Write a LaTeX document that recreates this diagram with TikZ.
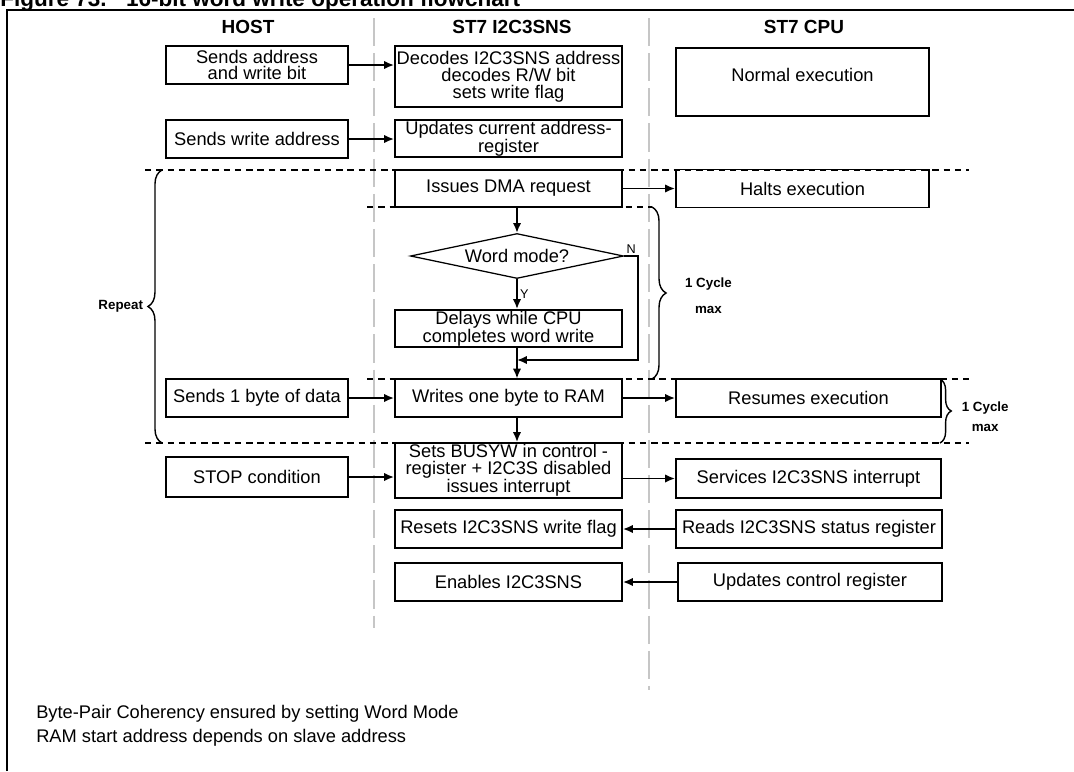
\documentclass[tikz,border=0pt]{standalone}
\usepackage{fontspec}
\setmainfont{Liberation Sans}
\usetikzlibrary{arrows.meta,shapes.geometric,decorations.pathreplacing}

\begin{document}
\begin{tikzpicture}[x=0.025cm, y=-0.025cm,
    font=\fontsize{13}{12}\selectfont,
    box/.style = {draw, line width=1.3pt, inner sep=0pt, align=center},
    hostbox/.style = {box, minimum width=4.55cm, minimum height=0.95cm},
    midbox/.style = {box, minimum width=5.675cm, minimum height=0.93cm},
    cpubox/.style = {box, minimum height=0.95cm},
    head/.style = {font=\fontsize{13.5}{14}\selectfont\bfseries},
    cyc/.style = {font=\fontsize{9.5}{11}\selectfont\bfseries, align=center, inner sep=0pt},
    yn/.style = {font=\fontsize{9}{10}\selectfont, inner sep=1.5pt},
    lane/.style = {gray!45, line width=1.4pt, dash pattern=on 20pt off 5pt},
    zone/.style = {line width=1.1pt, dash pattern=on 4.5pt off 3.5pt},
    flow/.style = {line width=1.3pt, -{Latex[length=7pt,width=6pt]}},
    curly/.style = {line width=1pt, decorate, decoration={brace, amplitude=10pt}}]

\useasboundingbox (0,0) rectangle (1074,771);

% frame and title
\node[anchor=base west, inner sep=0pt, font=\fontsize{16}{16}\selectfont\bfseries] (title) at (0,6) {Figure 73.\hspace{14pt}16-bit word write operation flowchart};
\draw[line width=1.5pt] (7,771) -- (7,10) -- (1074,10);

% lanes
\draw[lane] (374,18) -- (374,628);
\draw[lane] (649,18) -- (649,690);
\node[head] (host) at (248,27) {HOST};
\node[head] (sns) at (512,27) {ST7 I2C3SNS};
\node[head] (cpu) at (804,27) {ST7 CPU};

% repeat / cycle zones
\draw[zone] (145,170) -- (969,170);
\draw[zone] (367,207) -- (652,207);
\draw[zone] (367,379) -- (969,379);
\draw[zone] (145,443) -- (969,443);
\draw[curly] (162,443) -- (162,170) node[cyc, midway, left=13pt] (rep) {Repeat};
\draw[curly] (652,207) -- (652,379) node[cyc, midway, right=23pt, yshift=-2pt] (cyc1) {1 Cycle\\[7pt]max};
\draw[curly, decoration={brace, amplitude=8pt}] (940,379) -- (940,443) node[cyc, midway, right=15pt, yshift=-4pt] (cyc2) {1 Cycle\\[3pt]max};

% host
\node[hostbox] (sa) at (257,65) {Sends address\\and write bit};
\node[hostbox] (sw) at (257,139) {Sends write address};
\node[hostbox] (sd) at (257,398) {Sends 1 byte of data};
\node[hostbox, minimum height=1cm] (stop) at (257,477) {STOP condition};

% I2C3SNS
\node[midbox, minimum height=1.525cm] (dec) at (508.5,76.5) {Decodes I2C3SNS address\\decodes R/W bit\\sets write flag};
\node[midbox] (upd) at (508.5,138.5) {Updates current address-\\register};
\node[midbox] (dma) at (508.5,188.5) {Issues DMA request};
\node[draw, diamond, line width=0.9pt, aspect=4.7, inner sep=0pt, minimum width=5.325cm, minimum height=1.125cm] (word) at (517,256) {Word mode?};
\node[midbox] (dly) at (508.5,328.5) {Delays while CPU\\completes word write};
\node[midbox] (wr) at (508.5,398) {Writes one byte to RAM};
\node[midbox, minimum height=1.375cm] (busy) at (508.5,470.5) {Sets BUSYW in control -\\register + I2C3S disabled\\issues interrupt};
\node[midbox] (rst) at (508.5,529) {Resets I2C3SNS write flag};
\node[midbox] (ena) at (508.5,582) {Enables I2C3SNS};

% CPU
\node[cpubox, minimum width=6.325cm, minimum height=1.7cm, text depth=10pt] (norm) at (802.5,82) {Normal execution};
\node[cpubox, minimum width=6.325cm] (halt) at (802.5,188.5) {Halts execution};
\node[cpubox, minimum width=6.625cm] (res) at (808.5,398) {Resumes execution};
\node[cpubox, minimum width=6.625cm, minimum height=0.975cm] (serv) at (808.5,478.5) {Services I2C3SNS interrupt};
\node[cpubox, minimum width=6.65cm] (rds) at (809,529) {Reads I2C3SNS status register};
\node[cpubox, minimum width=6.6cm] (ctl) at (810,582) {Updates control register};

% connectors
\draw[flow] (sa.east) -- (sa.east -| dec.west);
\draw[flow] (sw.east) -- (sw.east -| upd.west);
\draw[flow] (dma.east) -- (halt.west);
\draw[flow] (word.north |- dma.south) -- (word.north);
\draw[flow] (word.south) -- (word.south |- dly.north) node[yn, midway, right] (yes) {Y};
\draw[flow] (word.south |- dly.south) -- (word.south |- wr.north);
\coordinate (join) at (517,360);
\draw[flow] (word.east) -| (638,360) -- (join);
\node[yn, anchor=south west] (no) at (word.east) {N};
\draw[flow] (sd.east) -- (wr.west);
\draw[flow] (wr.east) -- (res.west);
\draw[flow] (word.south |- wr.south) -- (word.south |- busy.north);
\draw[flow] (stop.east) -- (stop.east -| busy.west);
\draw[flow] (busy.east |- serv.west) -- (serv.west);
\draw[flow] (rds.west) -- (rds.west -| rst.east);
\draw[flow] (ctl.west) -- (ctl.west -| ena.east);

% notes
\node[anchor=base west, inner sep=0pt] (note1) at (36,718) {Byte-Pair Coherency ensured by setting Word Mode};
\node[anchor=base west, inner sep=0pt] (note2) at (36,742) {RAM start address depends on slave address};
\end{tikzpicture}
\end{document}
